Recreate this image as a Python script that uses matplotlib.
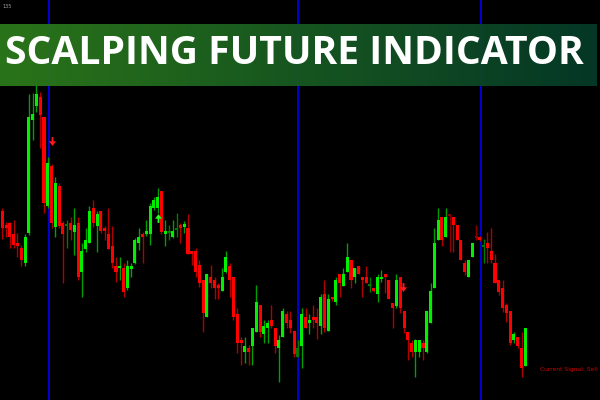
import matplotlib
matplotlib.use("Agg")
import matplotlib.pyplot as plt
import numpy as np

# ---- data (price units) ----
opens = [189,175,177,166,157,152,137,167,280,294,303,283,194,234,173,214,177,174,177,168,
         177,128,151,157,192,174,189,172,166,154,134,132,132,112,131,137,157,166,166,166,
         192,192,209,166,167,163,170,175,173,172,149,149,135,120,83,123,120,115,109,128,
         134,123,86,60,48,52,54,68,95,66,72,80,72,52,63,86,80,69,43,54,
         83,77,83,83,74,106,69,103,98,126,114,128,140,123,134,123,123,114,112,106,
         121,126,120,97,94,123,89,68,57,48,48,57,48,77,112,160,183,163,186,183,
         175,160,137,123,143,164,163,153,157,149,137,120,112,95,89,60,63,52,34]
highs = [192,178,178,180,167,155,166,306,307,320,308,283,243,236,223,217,179,180,183,192,
         183,157,172,194,200,189,189,174,192,174,143,143,137,140,137,162,172,168,180,197,
         203,212,209,180,175,180,187,177,179,186,149,152,140,120,126,135,123,117,132,149,
         137,123,92,63,63,55,72,115,95,80,80,95,72,65,92,89,89,69,60,92,
         92,86,95,92,106,120,106,103,123,126,132,157,140,132,134,123,134,123,112,126,
         130,126,120,97,126,123,89,68,60,61,60,60,89,117,172,192,183,192,186,183,
         175,160,140,140,157,175,164,161,168,172,146,120,120,97,89,68,63,68,72]
lows = [161,163,152,152,143,134,134,165,260,288,252,187,192,172,163,172,117,152,160,145,
        120,103,148,157,173,148,167,160,151,132,118,120,103,110,123,136,150,137,164,155,
        190,187,166,154,160,162,163,157,167,146,135,123,113,68,83,112,101,101,109,127,
        103,80,47,35,37,35,35,68,63,57,57,72,47,18,63,72,67,43,43,32,
        72,66,72,61,66,68,69,99,95,103,114,128,112,117,126,103,117,108,108,98,
        118,107,101,72,92,87,67,40,43,23,43,40,47,77,112,160,154,163,148,148,
        160,140,125,123,143,160,159,137,137,137,117,105,88,78,55,57,52,23,34]
closes = [172,172,163,155,154,140,163,283,286,306,285,197,237,177,217,174,166,176,170,175,
          123,149,160,189,177,186,169,169,151,137,128,134,108,134,134,160,163,163,169,194,
          200,203,168,169,169,169,172,172,176,146,146,128,117,87,126,117,112,112,123,143,
          120,83,57,57,54,48,72,98,68,74,77,74,54,60,89,77,72,46,52,86,
          72,80,80,77,103,72,101,101,120,117,126,143,120,132,126,120,117,115,109,123,
          123,123,101,92,120,92,72,60,48,60,60,52,89,109,157,180,160,183,184,175,
          160,140,128,140,157,162,160,154,152,140,117,108,92,87,57,66,54,32,72]
dim_bars = [17, 44, 46, 78, 97, 118, 125, 127]

signal_x = [13, 41, 105.8]
signal_y = [259, 182, 113]
signal_kind = ["sell", "buy", "sell"]

separator_x = [12.3, 78.0, 126.2]

title_text = "SCALPING FUTURE INDICATOR"
status_text = "Current Signal: Sell"
corner_text = "135"

# ---- figure ----
W, H = 600, 400
fig = plt.figure(figsize=(6, 4), dpi=100, facecolor="black")
ax = fig.add_axes([0, 0, 1, 1])
ax.set_facecolor("black")
ax.set_xlim(-0.607, 157.7)
ax.set_ylim(0, 400)
ax.axis("off")

for xs in separator_x:
    ax.axvline(xs, color="#0000e6", lw=1.3, zorder=1)

n = len(opens)
for i in range(n):
    o, h, l, c = opens[i], highs[i], lows[i], closes[i]
    bull = c >= o
    if i in dim_bars:
        body = "#007a00" if bull else "#8a0000"
        wick = body
    else:
        body = "#00f000" if bull else "#ff0000"
        wick = "#00a000" if bull else "#b00000"
    ax.vlines(i, l, h, color=wick, lw=1.0, zorder=2)
    bottom = min(o, c)
    height = max(abs(c - o), 2.2)
    ax.bar(i, height, bottom=bottom, width=0.8, color=body, linewidth=0,
           zorder=3, antialiased=False)

# thick arrow marker shapes
down_arrow = [(-0.22, 1.0), (0.22, 1.0), (0.22, 0.05), (0.8, 0.05), (0.0, -1.0),
              (-0.8, 0.05), (-0.22, 0.05), (-0.22, 1.0)]
up_arrow = [(x, -y) for x, y in down_arrow]
for sx, sy, kind in zip(signal_x, signal_y, signal_kind):
    if kind == "sell":
        ax.scatter([sx], [sy], marker=down_arrow, s=40, color="#ff1a1a",
                   linewidths=0, zorder=4)
    else:
        ax.scatter([sx], [sy], marker=up_arrow, s=40, color="#22ff22",
                   linewidths=0, zorder=4)

# banner gradient
bax = fig.add_axes([0, 1 - 86 / H, 597 / W, 62 / H])
c1 = np.array([0x2c, 0x7a, 0x1b]) / 255
c2 = np.array([0x05, 0x3a, 0x28]) / 255
t = np.linspace(0, 1, 300)[None, :, None]
grad = c1 * (1 - t) + c2 * t
bax.imshow(grad, aspect="auto", extent=[0, 1, 0, 1], alpha=0.96)
bax.axis("off")

txt = fig.text(5 / W, 1 - 64 / H, title_text, color="white", fontsize=29,
               fontweight="bold", family="Open Sans", ha="left", va="baseline")
fig.canvas.draw()
wpx = txt.get_window_extent().width
txt.set_fontsize(29 * 580 / wpx)

fig.text(540 / W, 1 - 369 / H, status_text, color="#d00000", fontsize=4.3,
         ha="left", va="center")
fig.text(2 / W, 1 - 7 / H, corner_text, color="#a0a0a0", fontsize=3.5,
         ha="left", va="center")

fig.savefig("out.png", dpi=100, facecolor="black")
